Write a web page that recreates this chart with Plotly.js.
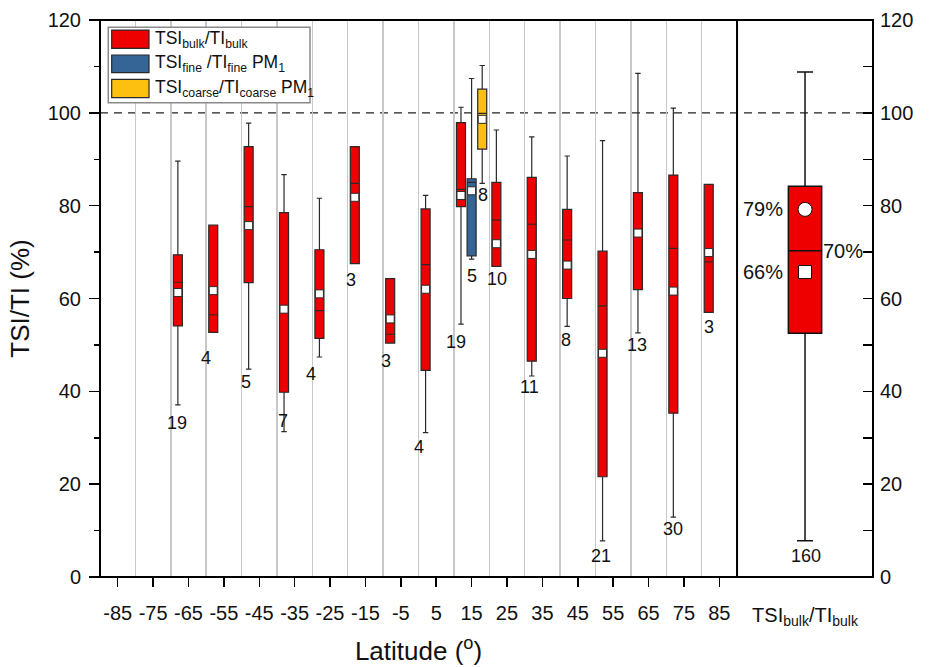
<!DOCTYPE html>
<html><head><meta charset="utf-8">
<script src="https://cdn.plot.ly/plotly-3.0.1.min.js"></script>
<style>body{margin:0;background:#fff}#chart{width:931px;height:667px}</style>
</head><body><div id="chart"></div>
<script>
// ---- data ----
const latBins = [-65,-55,-45,-35,-25,-15,-5,5,15,25,35,45,55,65,75,85];
const bulkQ1   = [54.1,52.7,63.4,39.8,51.4,67.5,50.4,44.5,79.8,66.9,46.5,60.0,21.6,61.9,35.3,57.0];
const bulkMed  = [63.5,56.5,79.8,57.0,57.4,84.8,52.3,67.3,83.5,76.9,76.0,72.6,58.4,74.0,70.8,67.9];
const bulkQ3   = [69.4,75.8,92.7,78.5,70.5,92.7,64.3,79.3,97.9,85.0,86.1,79.2,70.2,82.8,86.6,84.6];
const bulkLow  = [37.1,52.7,44.8,31.3,47.4,67.5,50.4,31.1,54.5,66.9,43.3,54.0,7.8,52.6,12.9,57.0];
const bulkHigh = [89.6,75.8,97.8,86.7,81.6,92.7,64.3,82.2,101.2,96.3,94.8,90.7,94.0,108.5,101.0,84.6];
const bulkMean = [61.3,61.7,75.7,57.7,61.0,81.8,55.6,62.0,82.2,71.8,69.5,67.2,48.2,74.1,61.6,69.9];
const bulkN    = [19,4,5,7,4,3,3,4,19,10,11,8,21,13,30,3];

const fineLat = [15];
const fineQ1 = [69.2], fineMed = [85.0], fineQ3 = [85.8], fineLow = [68.5], fineHigh = [107.4], fineMean = [83.2], fineN = [5];

const coarseLat = [15];
const coarseQ1 = [92.2], coarseMed = [99.9], coarseQ3 = [105.1], coarseLow = [84.8], coarseHigh = [110.2], coarseMean = [98.6], coarseN = [8];

// overall bulk box
const allQ1 = 52.5, allMed = 70.3, allQ3 = 84.2, allLow = 7.8, allHigh = 108.8, allMean = 65.7, allMode = 79.2, allN = 160;

const tickLat = [-85,-75,-65,-55,-45,-35,-25,-15,-5,5,15,25,35,45,55,65,75,85];

// count label positions (data coords)
const nLabelLat = [-68.2,-60.0,-48.7,-38.4,-30.4,-19.0,-9.1,0.0,10.5,22.3,31.5,41.7,51.7,61.7,71.9,82.2];
const nLabelY   = [33.2,47.2,42.1,33.6,43.7,64.0,46.6,28.1,50.7,64.2,40.9,51.1,4.5,50.0,10.3,53.9];
const fineLabel = [15.0, 64.9];
const coarseLabel = [18.3, 82.2];

// ---- styling ----
const FONT = "Arial, 'Liberation Sans', sans-serif";
const RED = '#ee0000', BLUE = '#356496', YEL = '#fdc010', EDGE = '#2a2a2a';
const OFF = {bulk:-3, fine:0, coarse:3};
const BW = 2.55;

function boxTrace(lat, off, q1, med, q3, lo, hi, fill){
  return {type:'box', x:lat.map(v=>v+off), q1:q1, median:med, q3:q3,
    lowerfence:lo, upperfence:hi, width:BW, whiskerwidth:0.6,
    fillcolor:fill, line:{color:EDGE, width:1.2}, boxpoints:false,
    hoverinfo:'skip', showlegend:false, xaxis:'x', yaxis:'y'};
}
function meanTrace(lat, off, mean){
  return {type:'scatter', mode:'markers', x:lat.map(v=>v+off), y:mean,
    marker:{symbol:'square', size:8, color:'#fff', line:{color:EDGE, width:1}},
    hoverinfo:'skip', showlegend:false, xaxis:'x', yaxis:'y'};
}

const traces = [
  boxTrace(latBins, OFF.bulk, bulkQ1, bulkMed, bulkQ3, bulkLow, bulkHigh, RED),
  boxTrace(fineLat, OFF.fine, fineQ1, fineMed, fineQ3, fineLow, fineHigh, BLUE),
  boxTrace(coarseLat, OFF.coarse, coarseQ1, coarseMed, coarseQ3, coarseLow, coarseHigh, YEL),
  meanTrace(latBins, OFF.bulk, bulkMean),
  meanTrace(fineLat, OFF.fine, fineMean),
  meanTrace(coarseLat, OFF.coarse, coarseMean),
  {type:'box', x:[0.5], q1:[allQ1], median:[allMed], q3:[allQ3], lowerfence:[allLow], upperfence:[allHigh],
   width:0.245, whiskerwidth:0.48, fillcolor:RED, line:{color:'#111', width:1.5}, boxpoints:false,
   hoverinfo:'skip', showlegend:false, xaxis:'x2', yaxis:'y2'},
  {type:'scatter', mode:'markers', x:[0.5], y:[allMean], xaxis:'x2', yaxis:'y2',
   marker:{symbol:'square', size:13, color:'#fff', line:{color:'#111', width:1}}, hoverinfo:'skip', showlegend:false},
  {type:'scatter', mode:'markers', x:[0.5], y:[allMode], xaxis:'x2', yaxis:'y2',
   marker:{symbol:'circle', size:14, color:'#fff', line:{color:'#111', width:1}}, hoverinfo:'skip', showlegend:false}
];

const annotations = [];
bulkN.forEach((n,i)=>annotations.push({x:nLabelLat[i], y:nLabelY[i], xref:'x', yref:'y', text:String(n),
  showarrow:false, font:{size:18, color:'#111', family:FONT}}));
annotations.push({x:fineLabel[0], y:fineLabel[1], xref:'x', yref:'y', text:String(fineN[0]), showarrow:false, font:{size:18,color:'#111',family:FONT}});
annotations.push({x:coarseLabel[0], y:coarseLabel[1], xref:'x', yref:'y', text:String(coarseN[0]), showarrow:false, font:{size:18,color:'#111',family:FONT}});
annotations.push({x:0.19, y:allMode, xref:'x2', yref:'y2', text:Math.round(allMode)+'%', showarrow:false, font:{size:20,color:'#111',family:FONT}});
annotations.push({x:0.19, y:allMean, xref:'x2', yref:'y2', text:Math.round(allMean)+'%', showarrow:false, font:{size:20,color:'#111',family:FONT}});
annotations.push({x:0.78, y:allMed, xref:'x2', yref:'y2', text:Math.round(allMed)+'%', showarrow:false, font:{size:20,color:'#111',family:FONT}});
annotations.push({x:0.507, y:4.5, xref:'x2', yref:'y2', text:String(allN), showarrow:false, font:{size:18,color:'#111',family:FONT}});

// custom legend
const legItems = [
  {fill:RED, text:'TSI<sub>bulk</sub>/TI<sub>bulk</sub>'},
  {fill:BLUE, text:'TSI<sub>fine</sub> /TI<sub>fine</sub> PM<sub>1</sub>'},
  {fill:YEL, text:'TSI<sub>coarse</sub>/TI<sub>coarse</sub> PM<sub>1</sub>'}
];
const shapes = [
  {type:'line', xref:'paper', x0:0, x1:1, yref:'y', y0:100, y1:100, layer:'between', line:{color:'#222', width:1.3, dash:'8px,6px'}},
  {type:'rect', xref:'paper', yref:'paper', x0:0, x1:1, y0:0, y1:1, line:{color:'#000', width:2}, layer:'above'},
  {type:'line', xref:'paper', yref:'paper', x0:0.8241, x1:0.8241, y0:0, y1:1, line:{color:'#000', width:2}, layer:'above'},
  {type:'rect', xref:'paper', yref:'paper', x0:0.0107, x1:0.2717, y0:0.8515, y1:0.9869, fillcolor:'#fff', line:{color:'#8a8a8a', width:1.5}, layer:'above'}
];
const rowTop = [0.982, 0.9372, 0.8935], rowBot = [0.949, 0.9054, 0.8605];
legItems.forEach((it,i)=>{
  shapes.push({type:'rect', xref:'paper', yref:'paper', x0:0.0151, x1:0.0634, y0:rowBot[i], y1:rowTop[i],
    fillcolor:it.fill, line:{color:EDGE, width:1.2}, layer:'above'});
  annotations.push({xref:'paper', yref:'paper', x:0.069, y:(rowTop[i]+rowBot[i])/2, xanchor:'left', yanchor:'middle',
    text:it.text, showarrow:false, font:{size:17.5, color:'#111', family:FONT}});
});

const layout = {
  width:931, height:667, paper_bgcolor:'#fff', plot_bgcolor:'#fff',
  margin:{l:100, r:58, t:20, b:90},
  font:{family:FONT, color:'#111'},
  showlegend:false, boxmode:'overlay',
  xaxis:{domain:[0,0.8241], range:[-90,90], anchor:'y', tickmode:'array', tickvals:tickLat,
    ticktext:tickLat.map(String), ticks:'outside', ticklen:9, tickwidth:1.5, tickcolor:'#000',
    showgrid:false, zeroline:false, showline:false, tickfont:{size:20}, ticklabelstandoff:9,
    minor:{tick0:-90, dtick:10, showgrid:true, gridcolor:'#c8c8c8', gridwidth:1.5, ticks:''},
    title:{text:'Latitude (<sup>o</sup>)', font:{size:26}, standoff:18}},
  yaxis:{domain:[0,1], range:[0,120], anchor:'x', dtick:20, ticks:'outside', ticklen:10, tickwidth:1.5, tickcolor:'#000',
    minor:{dtick:10, ticks:'outside', ticklen:5, tickwidth:1.5, tickcolor:'#000', showgrid:false},
    showgrid:false, zeroline:false, showline:false, tickfont:{size:20}, ticklabelstandoff:4,
    title:{text:'TSI/TI (%)', font:{size:26}, standoff:10}},
  xaxis2:{domain:[0.8241,1], range:[0,1], anchor:'y2', tickmode:'array', tickvals:[0.5],
    ticktext:['TSI<sub>bulk</sub>/TI<sub>bulk</sub>'], ticks:'', showgrid:false, zeroline:false,
    tickfont:{size:20}, ticklabelstandoff:24},
  yaxis2:{domain:[0,1], range:[0,120], anchor:'x2', side:'right', dtick:20, ticks:'inside', ticklen:10, tickwidth:1.5, tickcolor:'#000',
    minor:{dtick:10, ticks:'inside', ticklen:10, tickwidth:1.5, tickcolor:'#000', showgrid:false},
    showgrid:false, zeroline:false, showline:false, tickfont:{size:20}, ticklabelstandoff:6},
  shapes:shapes, annotations:annotations
};

Plotly.newPlot('chart', traces, layout, {staticPlot:true, displayModeBar:false});
</script></body></html>
